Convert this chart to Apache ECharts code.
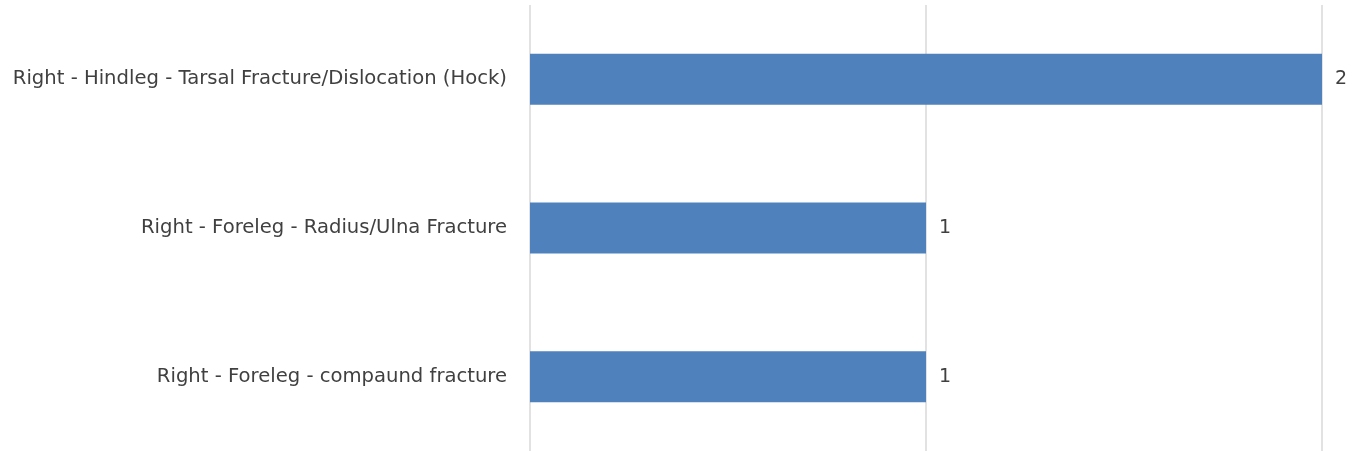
<!DOCTYPE html>
<html>
<head>
<meta charset="utf-8">
<script src="https://cdn.jsdelivr.net/npm/echarts@6/dist/echarts.min.js"></script>
<style>html,body{margin:0;padding:0;background:#fff;}#c{width:1352px;height:451px;}</style>
</head>
<body>
<div id="c"></div>
<script>
const categories = [
  "Right - Hindleg - Tarsal Fracture/Dislocation (Hock)",
  "Right - Foreleg - Radius/Ulna Fracture",
  "Right - Foreleg - compaund fracture"
];
const values = [2, 1, 1];
const xTicks = [0, 1, 2];

const chart = echarts.init(document.getElementById('c'), null, {renderer: 'canvas'});
chart.setOption({
  animation: false,
  grid: {left: 530, right: 30, top: 5, bottom: 0, containLabel: false},
  xAxis: {
    type: 'value', min: xTicks[0], max: xTicks[xTicks.length - 1], interval: 1,
    axisLabel: {show: false}, axisLine: {show: false}, axisTick: {show: false},
    splitLine: {show: true, lineStyle: {color: '#d9d9d9', width: 1.5}}
  },
  yAxis: {
    type: 'category', data: categories, inverse: true,
    axisLine: {show: false}, axisTick: {show: false},
    axisLabel: {margin: 23, color: '#404040', fontSize: 19.6, fontFamily: 'DejaVu Sans'}
  },
  series: [{
    type: 'bar', data: values, barWidth: 51,
    itemStyle: {color: '#4f81bd'},
    label: {show: true, position: 'right', distance: 13, color: '#404040', fontSize: 19, fontFamily: 'DejaVu Sans'}
  }]
});
</script>
</body>
</html>
